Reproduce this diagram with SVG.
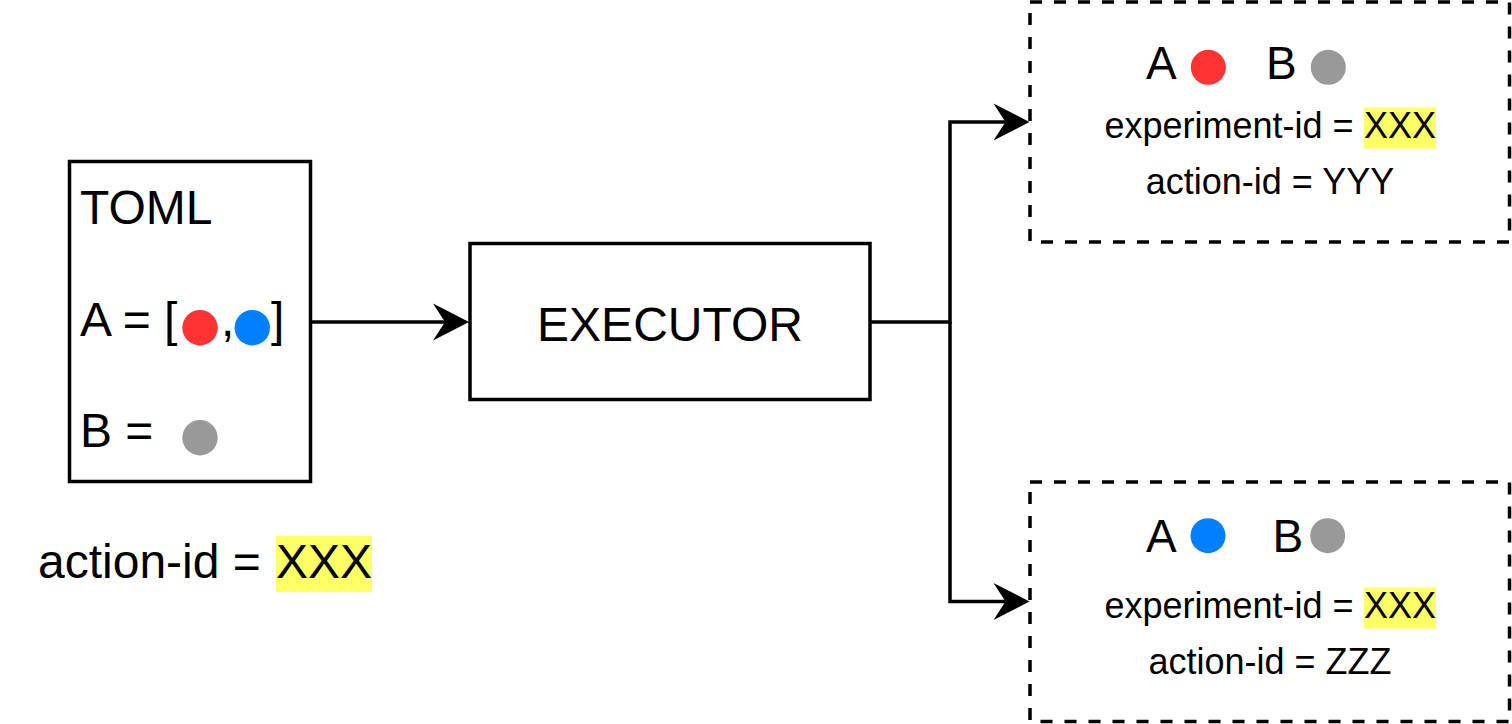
<svg xmlns="http://www.w3.org/2000/svg" width="1512" height="724" viewBox="0 0 1512 724">
  <style>
    .box { fill: #ffffff; stroke: #000000; stroke-width: 3.5; }
    .dbox { fill: #ffffff; stroke: #000000; stroke-width: 3.5; stroke-dasharray: 12 12; }
    .edge { fill: none; stroke: #000000; stroke-width: 3.5; }
    .t { font-family: "Liberation Sans", Arial, Helvetica, sans-serif; fill: #000000; }
    .big { font-size: 48px; }
    .mid { font-size: 46px; }
    .small { font-size: 36px; }
    .hl { fill: #ffff66; }
    .red { fill: #ff3333; }
    .blue { fill: #007fff; }
    .gray { fill: #999999; }
  </style>
  <defs>
    <marker id="arrow" markerWidth="44" markerHeight="44" viewBox="-16 -22 44 44" refX="0" refY="0" orient="auto" markerUnits="userSpaceOnUse">
      <path d="M24,0 L-12,-18.5 L0,0 L-12,18.5 Z" fill="#000000"/>
    </marker>
  </defs>
  <rect width="1512" height="724" fill="#ffffff"/>

  <g id="connectors">
    <path class="edge" d="M311,322 H445" marker-end="url(#arrow)"/>
    <path class="edge" d="M870,322 H950 V122 H1005.5" marker-end="url(#arrow)"/>
    <path class="edge" d="M950,322 V601.5 H1005.5" marker-end="url(#arrow)"/>
  </g>

  <g id="node-toml">
    <rect class="box" x="69.5" y="161.5" width="241" height="320"/>
    <text class="t big" x="80" y="224">TOML</text>
    <text class="t big" y="336"><tspan x="80">A = [</tspan><tspan x="221">,</tspan><tspan x="271">]</tspan></text>
    <circle class="red" cx="200" cy="327.7" r="17.7"/>
    <circle class="blue" cx="252.3" cy="327.7" r="17.7"/>
    <text class="t big" x="80" y="446.7">B = </text>
    <circle class="gray" cx="200" cy="437.7" r="17.7"/>
  </g>

  <g id="label-action-id">
    <rect class="hl" x="276" y="536" width="96" height="56"/>
    <text class="t big" y="578"><tspan x="38">action-id = </tspan><tspan x="276">XXX</tspan></text>
  </g>

  <g id="node-executor">
    <rect class="box" x="470" y="243.5" width="400" height="156"/>
    <text class="t big" x="670" y="341" text-anchor="middle">EXECUTOR</text>
  </g>

  <g id="node-result-1">
    <rect class="dbox" x="1030" y="2" width="479.5" height="240"/>
    <text class="t mid" y="79.3"><tspan x="1146">A</tspan><tspan x="1266">B</tspan></text>
    <circle class="red" cx="1208.3" cy="67.3" r="17.5"/>
    <circle class="gray" cx="1328.3" cy="67.3" r="17.5"/>
    <rect class="hl" x="1364" y="107.5" width="72" height="41"/>
    <text class="t small" y="138.3"><tspan x="1104.5">experiment-id = </tspan><tspan x="1364">XXX</tspan></text>
    <text class="t small" x="1270" y="194" text-anchor="middle">action-id = YYY</text>
  </g>

  <g id="node-result-2">
    <rect class="dbox" x="1030" y="482" width="479.5" height="239.5"/>
    <text class="t mid" y="551.7"><tspan x="1146">A</tspan><tspan x="1272.5">B</tspan></text>
    <circle class="blue" cx="1208" cy="535.7" r="17.5"/>
    <circle class="gray" cx="1327.7" cy="535.7" r="17.5"/>
    <rect class="hl" x="1364" y="587.5" width="72" height="41"/>
    <text class="t small" y="618.3"><tspan x="1104.5">experiment-id = </tspan><tspan x="1364">XXX</tspan></text>
    <text class="t small" x="1270" y="674.3" text-anchor="middle">action-id = ZZZ</text>
  </g>
</svg>
